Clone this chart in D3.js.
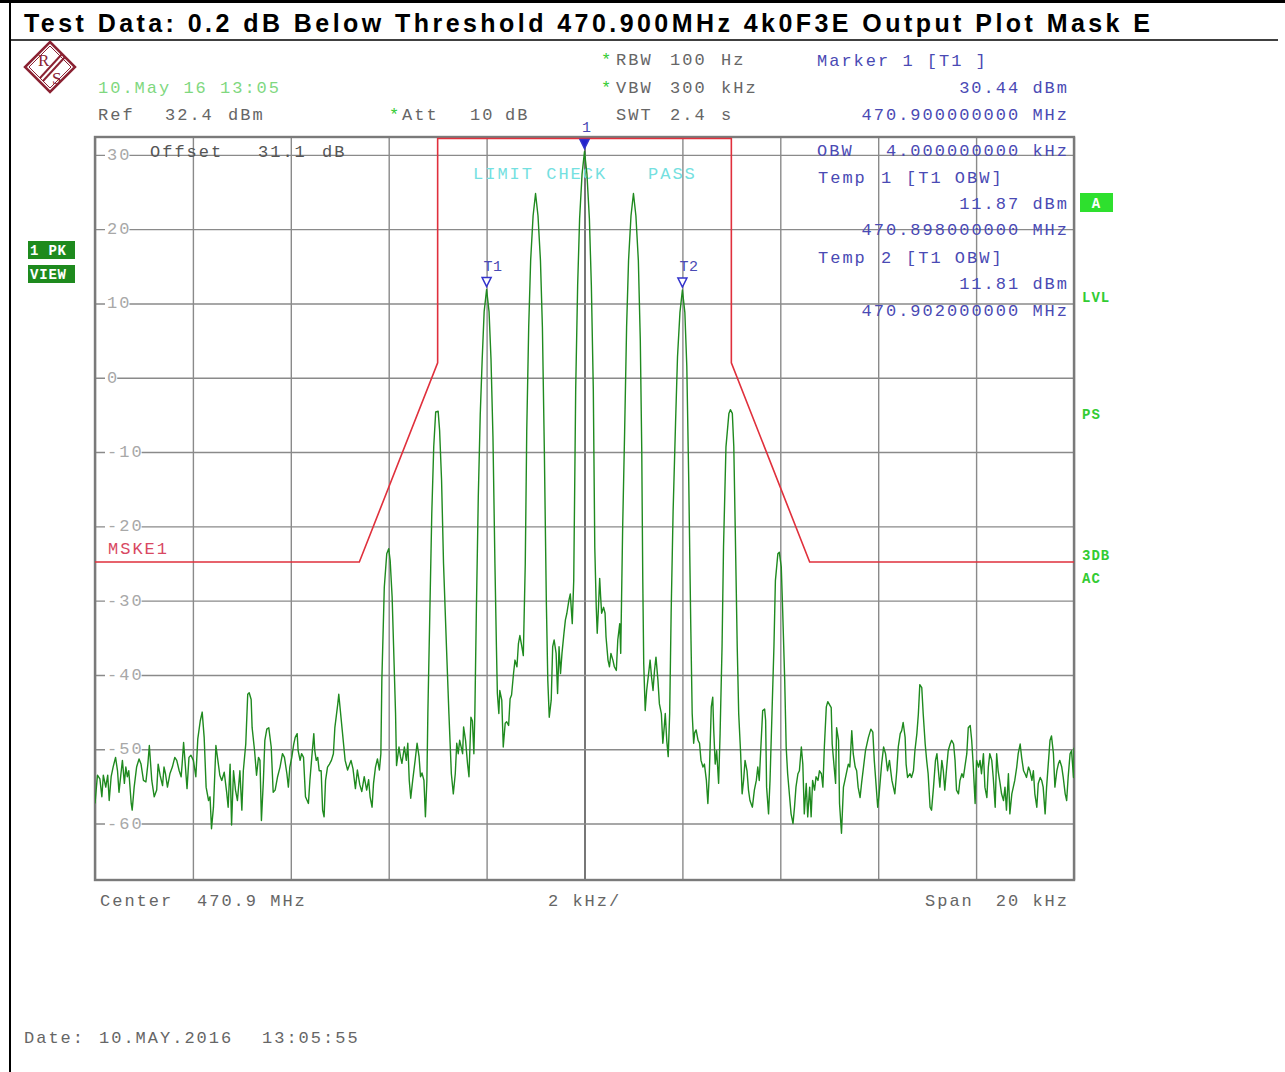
<!DOCTYPE html>
<html><head><meta charset="utf-8">
<script src="https://cdn.jsdelivr.net/npm/d3@7"></script>
<style>body{margin:0;background:#fff}svg{display:block}</style>
</head><body>
<script>
// ---------- DATA (frequency offset in kHz from 470.9 MHz, level in dBm) ----------
const traceNoiseLeft = [
[-10.00,-57.3],[-9.95,-53.5],[-9.90,-54.0],[-9.86,-56.4],[-9.83,-53.5],[-9.78,-55.1],[-9.74,-53.5],[-9.71,-56.9],[-9.67,-53.7],[-9.63,-52.4],
[-9.58,-51.1],[-9.54,-52.9],[-9.51,-55.8],[-9.47,-53.3],[-9.44,-51.5],[-9.40,-54.6],[-9.37,-52.4],[-9.34,-53.7],[-9.31,-52.9],[-9.26,-57.3],
[-9.24,-58.2],[-9.20,-55.1],[-9.15,-52.4],[-9.10,-51.3],[-9.06,-52.0],[-9.01,-54.2],[-8.96,-54.4],[-8.92,-52.0],[-8.89,-49.5],[-8.84,-54.2],
[-8.79,-56.4],[-8.74,-55.5],[-8.71,-52.0],[-8.67,-53.5],[-8.62,-54.9],[-8.59,-52.4],[-8.56,-53.3],[-8.52,-55.1],[-8.47,-53.3],[-8.42,-52.4],
[-8.37,-51.1],[-8.33,-51.5],[-8.28,-52.9],[-8.24,-53.7],[-8.22,-52.0],[-8.19,-49.1],[-8.16,-51.7],[-8.12,-55.3],[-8.08,-51.1],[-8.04,-50.8],
[-7.99,-51.5],[-7.94,-53.7],[-7.90,-48.6],[-7.85,-46.2],[-7.81,-45.0],[-7.77,-48.4],[-7.73,-55.1],[-7.68,-56.9],[-7.65,-56.4],[-7.62,-60.7],
[-7.58,-57.8],[-7.55,-52.9],[-7.53,-49.5],[-7.49,-51.5],[-7.45,-53.5],[-7.41,-54.2],[-7.36,-53.1],[-7.31,-55.8],[-7.28,-57.8],[-7.24,-52.0],
[-7.21,-60.2],[-7.17,-52.9],[-7.13,-55.5],[-7.09,-56.9],[-7.04,-52.9],[-7.00,-58.2],[-6.97,-52.9],[-6.92,-49.3],[-6.88,-42.6],[-6.85,-42.4],
[-6.81,-43.3],[-6.79,-47.1],[-6.74,-50.2],[-6.70,-53.5],[-6.66,-51.1],[-6.63,-51.5],[-6.60,-59.6],[-6.56,-54.2],[-6.53,-48.8],[-6.49,-47.3],
[-6.45,-47.1],[-6.40,-49.7],[-6.36,-55.8],[-6.32,-55.5],[-6.27,-53.7],[-6.22,-52.4],[-6.17,-50.6],[-6.13,-51.1],[-6.08,-53.3],[-6.05,-55.1],
[-6.02,-52.4],[-5.98,-51.1],[-5.94,-49.3],[-5.91,-48.4],[-5.87,-47.9],[-5.85,-50.2],[-5.81,-51.5],[-5.78,-50.6],[-5.74,-51.1],[-5.70,-56.4],
[-5.64,-57.3],[-5.61,-54.2],[-5.56,-50.2],[-5.53,-47.9],[-5.51,-50.2],[-5.48,-51.5],[-5.45,-51.1],[-5.42,-52.9],[-5.38,-52.9],[-5.35,-58.2],
[-5.32,-59.1],[-5.29,-54.2],[-5.25,-52.4],[-5.21,-52.0],[-5.17,-51.5],[-5.13,-50.6],[-5.10,-47.1],[-5.04,-43.9],[-5.02,-42.6]
];
const traceSignal = [
[-4.95,-47.4],[-4.89,-51.5],[-4.84,-52.8],[-4.77,-51.5],[-4.73,-52.6],[-4.68,-55.3],[-4.64,-52.8],[-4.59,-54.8],[-4.55,-55.7],[-4.50,-53.7],
[-4.45,-55.5],[-4.41,-54.1],[-4.38,-56.4],[-4.34,-57.8],[-4.31,-54.6],[-4.27,-52.4],[-4.23,-51.3],[-4.19,-52.8],[-4.16,-50.6],[-4.14,-40.7],
[-4.09,-28.2],[-4.04,-23.7],[-4.00,-23.0],[-3.97,-24.6],[-3.93,-29.5],[-3.90,-36.2],[-3.86,-45.2],[-3.84,-52.2],[-3.79,-49.7],[-3.76,-51.0],
[-3.73,-51.9],[-3.68,-49.7],[-3.64,-51.5],[-3.61,-49.2],[-3.58,-54.2],[-3.55,-56.6],[-3.51,-54.2],[-3.46,-51.5],[-3.42,-49.2],[-3.38,-51.0],
[-3.35,-53.7],[-3.32,-53.2],[-3.28,-54.2],[-3.25,-59.1],[-3.22,-54.2],[-3.20,-45.2],[-3.16,-31.7],[-3.12,-18.3],[-3.08,-9.3],[-3.04,-4.6],
[-2.99,-4.5],[-2.96,-7.1],[-2.92,-13.8],[-2.88,-25.0],[-2.82,-36.2],[-2.77,-45.2],[-2.72,-53.3],[-2.68,-56.0],[-2.64,-53.3],[-2.61,-49.2],
[-2.58,-50.6],[-2.55,-48.8],[-2.49,-50.6],[-2.47,-47.0],[-2.43,-48.8],[-2.39,-51.9],[-2.36,-53.7],[-2.32,-45.7],[-2.29,-46.2],[-2.26,-50.6],
[-2.24,-45.2],[-2.21,-31.7],[-2.17,-16.1],[-2.13,-5.0],[-2.09,2.5],[-2.05,8.9],[-2.00,11.87],[-1.95,8.9],[-1.91,2.5],[-1.87,-8.0],
[-1.83,-25.0],[-1.80,-36.0],[-1.78,-42.5],[-1.75,-45.2],[-1.73,-42.1],[-1.69,-43.4],[-1.66,-49.7],[-1.62,-46.5],[-1.59,-46.3],[-1.55,-46.8],
[-1.52,-43.2],[-1.49,-42.7],[-1.45,-39.8],[-1.42,-38.0],[-1.38,-38.9],[-1.35,-35.8],[-1.32,-34.7],[-1.28,-36.2],[-1.25,-37.4],[-1.21,-25.0],
[-1.18,-7.2],[-1.14,6.8],[-1.10,15.8],[-1.05,21.8],[-1.00,24.8],[-0.95,21.8],[-0.90,15.8],[-0.86,6.8],[-0.82,-10.0],[-0.78,-30.0],
[-0.75,-40.7],[-0.72,-45.7],[-0.68,-43.4],[-0.65,-36.2],[-0.62,-35.3],[-0.58,-37.1],[-0.55,-42.5],[-0.52,-36.2],[-0.49,-39.8],[-0.46,-37.1],
[-0.42,-34.4],[-0.39,-32.6],[-0.36,-31.7],[-0.32,-30.0],[-0.29,-29.1],[-0.25,-33.1],[-0.22,-27.3],[-0.18,-1.6],[-0.14,12.4],[-0.10,21.4],
[-0.05,27.4],[0.00,30.44],[0.05,27.4],[0.10,21.4],[0.14,12.4],[0.18,-1.6],[0.21,-22.8],[0.24,-30.9],[0.26,-34.4],[0.28,-31.7],
[0.31,-27.0],[0.33,-29.5],[0.35,-31.7],[0.39,-30.9],[0.42,-31.7],[0.44,-34.9],[0.48,-38.0],[0.51,-38.9],[0.54,-37.1],[0.58,-38.0],
[0.61,-38.9],[0.65,-39.4],[0.68,-35.3],[0.72,-33.1],[0.74,-37.1],[0.78,-20.0],[0.82,-7.2],[0.86,6.8],[0.90,15.8],[0.95,21.8],
[1.00,24.8],[1.05,21.8],[1.10,15.8],[1.14,5.0],[1.17,-10.0],[1.19,-27.0],[1.21,-38.5],[1.24,-44.8],[1.27,-42.1],[1.31,-39.8],
[1.34,-38.0],[1.37,-40.3],[1.40,-42.1],[1.43,-39.4],[1.46,-37.6],[1.50,-40.7],[1.53,-43.9],[1.57,-45.2],[1.60,-49.2],[1.63,-46.9],
[1.65,-45.2],[1.68,-48.8],[1.71,-51.0],[1.74,-45.2],[1.77,-31.7],[1.81,-18.0],[1.86,-6.1],[1.90,2.8],[1.95,8.8],[2.00,11.81],
[2.05,8.8],[2.09,1.5],[2.13,-14.0],[2.17,-33.0],[2.20,-45.2],[2.23,-49.2],[2.25,-47.8],[2.28,-47.4],[2.32,-48.8],[2.35,-49.2],
[2.38,-51.5],[2.42,-52.4],[2.45,-52.0],[2.49,-54.2],[2.52,-57.3],[2.55,-53.3],[2.59,-44.3],[2.62,-43.0],[2.64,-47.4],[2.67,-52.0],
[2.70,-50.2],[2.74,-54.6],[2.77,-47.9],[2.81,-36.2],[2.84,-22.8],[2.89,-9.3],[2.95,-4.8],[2.98,-4.3],[3.02,-4.8],[3.05,-9.3],
[3.08,-20.5],[3.12,-36.2],[3.15,-45.2],[3.19,-50.6],[3.22,-56.0],[3.25,-54.2],[3.28,-51.5],[3.32,-52.9],[3.35,-55.5],[3.38,-56.9],
[3.43,-57.8],[3.47,-55.5],[3.51,-54.2],[3.54,-52.4],[3.57,-54.2],[3.61,-48.8],[3.64,-44.8],[3.68,-44.6],[3.70,-46.1],[3.72,-55.1],
[3.76,-58.7],[3.79,-54.2],[3.83,-45.2],[3.87,-36.2],[3.90,-27.3],[3.95,-23.7],[3.98,-23.5],[4.02,-25.5],[4.05,-31.7],[4.09,-40.7],
[4.12,-49.7],[4.15,-53.3],[4.19,-56.4],[4.22,-58.7],[4.26,-60.0],[4.29,-57.8],[4.32,-55.1],[4.36,-53.3],[4.39,-52.9],[4.43,-49.7],
[4.46,-52.0],[4.49,-58.7],[4.53,-54.6],[4.56,-59.1],[4.60,-55.1],[4.63,-59.1],[4.66,-54.2],[4.70,-55.5],[4.73,-53.7],[4.77,-54.2],
[4.80,-52.9],[4.84,-53.3],[4.87,-55.1],[4.90,-49.7],[4.94,-44.3],[4.97,-43.6]
];
const traceNoiseRight = [
[5.04,-44.4],[5.06,-49.3],[5.10,-52.4],[5.13,-54.6],[5.15,-47.1],[5.19,-48.8],[5.21,-57.3],[5.25,-61.3],[5.29,-55.1],[5.32,-54.2],
[5.36,-52.9],[5.39,-52.0],[5.42,-52.4],[5.46,-47.5],[5.49,-50.6],[5.53,-52.4],[5.56,-52.9],[5.59,-55.1],[5.63,-56.5],[5.66,-54.6],
[5.70,-52.4],[5.74,-50.2],[5.80,-48.4],[5.85,-47.3],[5.89,-47.7],[5.92,-51.5],[5.95,-54.2],[5.99,-57.8],[6.02,-56.0],[6.07,-52.0],
[6.11,-49.7],[6.15,-50.6],[6.19,-52.9],[6.23,-51.5],[6.28,-54.2],[6.31,-55.1],[6.34,-56.0],[6.38,-52.9],[6.41,-49.7],[6.45,-47.9],
[6.48,-47.5],[6.51,-46.4],[6.55,-48.4],[6.57,-52.0],[6.60,-53.8],[6.65,-53.3],[6.68,-53.8],[6.72,-52.9],[6.75,-50.2],[6.79,-47.9],
[6.82,-45.3],[6.85,-41.3],[6.89,-41.7],[6.92,-45.3],[6.96,-49.3],[6.99,-51.5],[7.02,-53.3],[7.06,-57.8],[7.09,-58.2],[7.13,-55.1],
[7.17,-51.5],[7.20,-50.6],[7.23,-52.9],[7.26,-55.1],[7.30,-51.5],[7.33,-52.9],[7.36,-55.5],[7.40,-52.4],[7.43,-50.2],[7.47,-49.3],
[7.50,-48.8],[7.54,-49.3],[7.57,-51.5],[7.60,-55.5],[7.64,-56.0],[7.67,-54.2],[7.71,-53.3],[7.74,-53.8],[7.77,-52.4],[7.81,-50.6],
[7.84,-47.1],[7.88,-46.8],[7.91,-48.8],[7.94,-52.0],[7.98,-57.3],[8.01,-51.5],[8.05,-52.4],[8.08,-51.5],[8.11,-53.3],[8.15,-50.6],
[8.18,-55.1],[8.22,-56.5],[8.25,-52.4],[8.28,-50.6],[8.32,-51.5],[8.35,-53.8],[8.39,-57.8],[8.42,-50.6],[8.45,-52.9],[8.49,-54.6],
[8.52,-56.0],[8.56,-56.9],[8.59,-55.1],[8.62,-58.2],[8.66,-53.3],[8.69,-58.7],[8.73,-56.0],[8.76,-55.1],[8.79,-54.2],[8.83,-52.4],
[8.86,-50.6],[8.90,-49.3],[8.93,-51.1],[8.97,-52.9],[9.00,-53.3],[9.03,-53.8],[9.07,-52.4],[9.10,-52.9],[9.14,-54.2],[9.17,-52.9],
[9.20,-56.0],[9.24,-57.8],[9.27,-54.6],[9.31,-53.8],[9.34,-54.2],[9.37,-55.1],[9.41,-58.7],[9.44,-55.1],[9.48,-51.5],[9.51,-48.8],
[9.54,-48.2],[9.58,-50.6],[9.61,-55.1],[9.65,-52.9],[9.68,-52.0],[9.71,-51.5],[9.75,-52.4],[9.78,-53.8],[9.82,-56.0],[9.85,-56.9],
[9.88,-53.8],[9.92,-50.6],[9.95,-50.2],[9.99,-53.8],[10.00,-49.8]
];
const maskFreq  = [-10, -4.6, -3.0, -3.0, 3.0, 3.0, 4.6, 10];
const maskLevel = [-24.8, -24.8, 2.0, 32.2, 32.2, 2.0, -24.8, -24.8];
const yTickValues = [30, 20, 10, 0, -10, -20, -30, -40, -50, -60];
const yTickLabels = ["30", "20", "10", "0", "-10", "-20", "-30", "-40", "-50", "-60"];
const xGridValues = [-10, -8, -6, -4, -2, 0, 2, 4, 6, 8, 10];
const markerNames  = ["1", "T1", "T2"];
const markerFreq   = [0, -2, 2];
const markerLevel  = [30.44, 11.87, 11.81];
const markerFilled = [true, false, false];
const refLevel = 32.4, rangeDb = 100, spanKHz = 20;

// ---------- LAYOUT ----------
const W = 1285, H = 1072;
const P = {left: 95, right: 1074, top: 137, bottom: 880};
const MONO = "'Liberation Mono', 'DejaVu Sans Mono', monospace";
const GRAY = "#666666", BLUE = "#4a4ab4", GREEN = "#33cc33";

const svg = d3.select("body").append("svg").attr("width", W).attr("height", H);
const x = d3.scaleLinear().domain([-spanKHz/2, spanKHz/2]).range([P.left, P.right]);
const y = d3.scaleLinear().domain([refLevel - rangeDb, refLevel]).range([P.bottom, P.top]);

// page frame
svg.append("line").attr("x1", 0).attr("x2", W).attr("y1", 1.5).attr("y2", 1.5).attr("stroke", "#000").attr("stroke-width", 3);
svg.append("line").attr("x1", 10).attr("x2", 10).attr("y1", 0).attr("y2", H).attr("stroke", "#000").attr("stroke-width", 2);
svg.append("line").attr("x1", 10).attr("x2", 1278).attr("y1", 40).attr("y2", 40).attr("stroke", "#000").attr("stroke-width", 1.5);

// title
svg.append("text").attr("x", 24).attr("y", 32)
  .attr("font-family", "'Liberation Sans', Arial, sans-serif").attr("font-weight", "bold").attr("font-size", 25)
  .attr("textLength", 1126).attr("lengthAdjust", "spacing").attr("fill", "#000")
  .text("Test Data: 0.2 dB Below Threshold 470.900MHz 4k0F3E Output Plot Mask E");

// R&S logo
const logo = svg.append("g").attr("transform", "translate(50,67)");
const dia = s => `M0,${-s} L${s},0 L0,${s} L${-s},0 Z`;
logo.append("path").attr("d", dia(25)).attr("fill", "none").attr("stroke", "#8b2233").attr("stroke-width", 2.5);
logo.append("path").attr("d", dia(21)).attr("fill", "none").attr("stroke", "#8b2233").attr("stroke-width", 1);
logo.append("line").attr("x1", 12).attr("y1", -13).attr("x2", -10).attr("y2", 11).attr("stroke", "#8b2233").attr("stroke-width", 2);
logo.append("line").attr("x1", 15).attr("y1", -10).attr("x2", -7).attr("y2", 14).attr("stroke", "#8b2233").attr("stroke-width", 2);
logo.append("text").attr("x", -12).attr("y", -1).attr("font-family", "'Liberation Serif', serif").attr("font-size", 17).attr("fill", "#8b2233").text("R");
logo.append("text").attr("x", 2).attr("y", 17).attr("font-family", "'Liberation Serif', serif").attr("font-size", 17).attr("fill", "#8b2233").text("S");

// generic mono text helper
function mt(txt, xx, yy, color, anchor, opts) {
  opts = opts || {};
  const t = svg.append("text").attr("x", xx).attr("y", yy)
    .attr("font-family", MONO).attr("font-size", opts.size || 17)
    .attr("letter-spacing", opts.ls !== undefined ? opts.ls : 2.0)
    .attr("fill", color).attr("text-anchor", anchor || "start")
    .attr("font-weight", opts.bold ? "bold" : "normal")
    .style("white-space", "pre").text(txt);
  return t;
}

// header info
mt("10.May 16 13:05", 98, 93, "#7fd87f");
mt("Ref", 98, 120, GRAY); mt("32.4", 165, 120, GRAY); mt("dBm", 228, 120, GRAY);
mt("*", 389, 120, GREEN); mt("Att", 402, 120, GRAY); mt("10", 470, 120, GRAY); mt("dB", 505, 120, GRAY);
mt("*", 601, 65, GREEN); mt("RBW", 616, 65, GRAY); mt("100", 670, 65, GRAY); mt("Hz", 721, 65, GRAY);
mt("*", 601, 93, GREEN); mt("VBW", 616, 93, GRAY); mt("300", 670, 93, GRAY); mt("kHz", 721, 93, GRAY);
mt("SWT", 616, 120, GRAY); mt("2.4", 670, 120, GRAY); mt("s", 721, 120, GRAY);
mt("Marker 1 [T1 ]", 817, 66, BLUE);
mt("30.44 dBm", 1069, 93, BLUE, "end");
mt("470.900000000 MHz", 1069, 120, BLUE, "end");

// grid via axes
const gx = svg.append("g").attr("transform", `translate(0,${P.bottom})`)
  .call(d3.axisBottom(x).tickValues(xGridValues).tickSize(-(P.bottom - P.top)).tickFormat(""));
gx.select(".domain").remove();
gx.selectAll(".tick line").attr("stroke", "#8a8a8a").attr("stroke-width", 1.4);
gx.selectAll(".tick").filter(d => d === 0).select("line").attr("stroke", "#777").attr("stroke-width", 2);
const gy = svg.append("g").attr("transform", `translate(${P.left},0)`)
  .call(d3.axisLeft(y).tickValues(yTickValues).tickSize(-(P.right - P.left)).tickFormat(""));
gy.select(".domain").remove();
gy.selectAll(".tick line").attr("stroke", "#8a8a8a").attr("stroke-width", 1.4);

// y tick labels with white background
yTickValues.forEach((v, i) => {
  const t = mt(yTickLabels[i], 107, y(v) + 5, "#a8a8a8");
  const bb = t.node().getBBox();
  svg.insert("rect", () => t.node()).attr("x", bb.x - 2).attr("y", y(v) - 2).attr("width", bb.width)
    .attr("height", 4).attr("fill", "#fff");
});

// plot frame
svg.append("rect").attr("x", P.left).attr("y", P.top).attr("width", P.right - P.left).attr("height", P.bottom - P.top)
  .attr("fill", "none").attr("stroke", "#7a7a7a").attr("stroke-width", 2.4);

// texts in plot
mt("Offset", 150, 157, "#555"); mt("31.1", 258, 157, "#555"); mt("dB", 322, 157, "#555");
mt("LIMIT CHECK", 473, 179, "#74e0e0"); mt("PASS", 648, 179, "#74e0e0");
mt("OBW", 817, 156, BLUE); mt("4.000000000 kHz", 1069, 156, BLUE, "end");
mt("Temp", 818, 183, BLUE); mt("1", 881, 183, BLUE); mt("[T1 OBW]", 906, 183, BLUE);
mt("11.87 dBm", 1069, 209, BLUE, "end");
mt("470.898000000 MHz", 1069, 235, BLUE, "end");
mt("Temp", 818, 263, BLUE); mt("2", 881, 263, BLUE); mt("[T1 OBW]", 906, 263, BLUE);
mt("11.81 dBm", 1069, 289, BLUE, "end");
mt("470.902000000 MHz", 1069, 316, BLUE, "end");
mt("MSKE1", 108, 554, "#d84862");

// clip
svg.append("clipPath").attr("id", "clip").append("rect")
  .attr("x", P.left).attr("y", P.top).attr("width", P.right - P.left).attr("height", P.bottom - P.top);

// mask line
const maskPts = maskFreq.map((f, i) => [f, maskLevel[i]]);
svg.append("path").datum(maskPts).attr("clip-path", "url(#clip)")
  .attr("d", d3.line().x(d => x(d[0])).y(d => y(d[1])))
  .attr("fill", "none").attr("stroke", "#e0303c").attr("stroke-width", 1.6);

// trace
const trace = traceNoiseLeft.concat(traceSignal, traceNoiseRight);
svg.append("path").datum(trace).attr("clip-path", "url(#clip)")
  .attr("d", d3.line().x(d => x(d[0])).y(d => y(d[1])))
  .attr("fill", "none").attr("stroke", "#1f8a1f").attr("stroke-width", 1.4).attr("stroke-linejoin", "round");

// markers
markerNames.forEach((n, i) => {
  const mx = x(markerFreq[i]), my = y(markerLevel[i]);
  const tri = `M${mx - 4.5},${my - 12} L${mx + 4.5},${my - 12} L${mx},${my - 3} Z`;
  svg.append("path").attr("d", tri).attr("fill", markerFilled[i] ? "#2222cc" : "#fff")
    .attr("stroke", "#3333cc").attr("stroke-width", 1.5);
  if (markerFilled[i]) mt(n, mx + 2, my - 20, BLUE, "middle", {size: 15, ls: 0});
  else mt(n, mx - 3, my - 19, BLUE, "start", {size: 15, ls: 0.5});
});

// left soft keys
[["1 PK", 241], ["VIEW", 265]].forEach(([s, yy]) => {
  svg.append("rect").attr("x", 28).attr("y", yy).attr("width", 47).attr("height", 18).attr("fill", "#1e8a1e");
  mt(s, 30, yy + 14, "#fff", "start", {size: 14, ls: 0.8, bold: true});
});
// right annotations
svg.append("rect").attr("x", 1080).attr("y", 193).attr("width", 33).attr("height", 19).attr("fill", "#2ee02e");
mt("A", 1096, 208, "#fff", "middle", {size: 14, ls: 0, bold: true});
mt("LVL", 1082, 302, GREEN, "start", {size: 14, ls: 1, bold: true});
mt("PS", 1082, 419, GREEN, "start", {size: 14, ls: 1, bold: true});
mt("3DB", 1082, 560, GREEN, "start", {size: 14, ls: 1, bold: true});
mt("AC", 1082, 583, GREEN, "start", {size: 14, ls: 1, bold: true});

// footer
mt("Center", 100, 906, GRAY); mt("470.9 MHz", 197, 906, GRAY);
mt("2 kHz/", 548, 906, GRAY);
mt("Span", 925, 906, GRAY); mt("20 kHz", 1069, 906, GRAY, "end");
mt("Date:", 24, 1043, GRAY); mt("10.MAY.2016", 99, 1043, GRAY); mt("13:05:55", 262, 1043, GRAY);
</script>
</body></html>
